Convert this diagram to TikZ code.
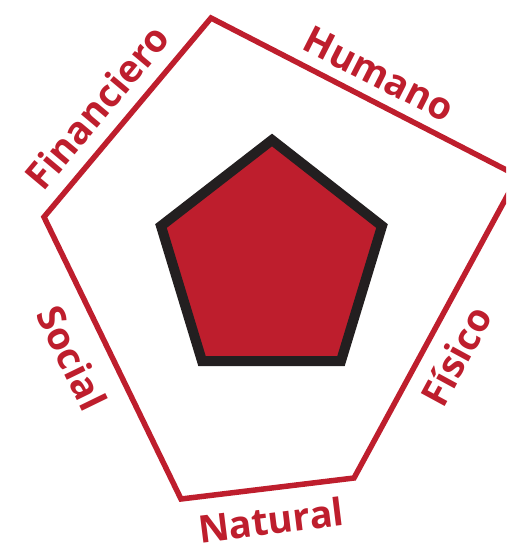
\documentclass[tikz,border=0pt]{standalone}
\usepackage{fontspec}
\setmainfont{Open Sans}
\definecolor{capred}{HTML}{BE1E2D}
\definecolor{capdark}{HTML}{231F20}
\begin{document}
\begin{tikzpicture}[x=1pt,y=-1pt,
  outerline/.style={draw=capred,line width=5.5pt,line join=miter},
  innerpent/.style={draw=capdark,fill=capred,line width=10pt,line join=miter},
  caplabel/.style={text=capred,inner sep=0pt,font=\fontsize{38}{42}\selectfont\bfseries}]
\useasboundingbox (0,0) rectangle (506,543);
\clip (0,0) rectangle (506,543);
% outer pentagon
\coordinate (o1) at (211,18);
\coordinate (o2) at (518,176);
\coordinate (o3) at (354,478);
\coordinate (o4) at (181,499);
\coordinate (o5) at (44,217);
\draw[outerline] (o1) -- (o2) -- (o3) -- (o4) -- (o5) -- cycle;
% inner pentagon
\coordinate (i1) at (272,140);
\coordinate (i2) at (382,226);
\coordinate (i3) at (341,361);
\coordinate (i4) at (202,361);
\coordinate (i5) at (161,226);
\draw[innerpent] (i1) -- (i2) -- (i3) -- (i4) -- (i5) -- cycle;
% labels
\node[caplabel,rotate=-27] (humano) at (379,74) {Humano};
\node[caplabel,rotate=50] (financiero) at (97,107) {Financiero};
\node[caplabel,rotate=-64] (social) at (72,358) {Social};
\node[caplabel,rotate=61.5] (fisico) at (456,356) {Físico};
\node[caplabel,rotate=7] (natural) at (271,520) {Natural};
\end{tikzpicture}
\end{document}
